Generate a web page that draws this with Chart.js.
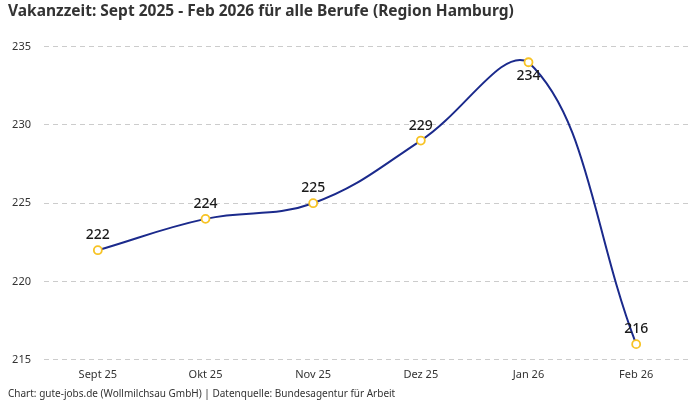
<!DOCTYPE html>
<html>
<head>
<meta charset="utf-8">
<script src="https://cdn.jsdelivr.net/npm/chart.js@4"></script>
<style>
  html, body { margin: 0; padding: 0; background: #fff; }
  #wrap { width: 700px; height: 400px; }
</style>
</head>
<body>
<div id="wrap"><canvas id="vakanzChart"></canvas></div>
<script>
const months = ['Sept 25', 'Okt 25', 'Nov 25', 'Dez 25', 'Jan 26', 'Feb 26'];
const vakanzTage = [222, 224, 225, 229, 234, 216];
const labelBelow = [false, false, false, false, true, false];

const fontFamily = '"Noto Sans", "DejaVu Sans", sans-serif';

// Draw the value labels next to each point
const valueLabels = {
    id: 'valueLabels',
    afterDatasetsDraw(chart) {
        const ctx = chart.ctx;
        const meta = chart.getDatasetMeta(0);
        ctx.save();
        ctx.font = '500 14px ' + fontFamily;
        ctx.fillStyle = '#1a1a1a';
        ctx.textAlign = 'center';
        ctx.textBaseline = 'middle';
        meta.data.forEach((pt, i) => {
            const dy = labelBelow[i] ? 14 : -15;
            ctx.fillText(vakanzTage[i], pt.x, pt.y + dy);
        });
        ctx.restore();
    }
};

const ctx = document.getElementById('vakanzChart').getContext('2d');
new Chart(ctx, {
    type: 'line',
    data: {
        labels: months,
        datasets: [{
            data: vakanzTage,
            borderColor: '#1b2a8c',
            borderWidth: 2,
            tension: 0.4,
            pointRadius: 4,
            pointBorderWidth: 1.8,
            pointBorderColor: '#f7c325',
            pointBackgroundColor: '#ffffff',
            fill: false
        }]
    },
    options: {
        responsive: true,
        maintainAspectRatio: false,
        animation: false,
        layout: { padding: { left: 8, right: 10, top: 2, bottom: 0 } },
        scales: {
            x: {
                offset: true,
                grid: { display: false, drawTicks: false },
                border: { display: false },
                ticks: { color: '#333', font: { family: fontFamily, size: 11 }, padding: 8 }
            },
            y: {
                min: 215,
                max: 235,
                afterFit(scale) { scale.width = 36; },
                ticks: { stepSize: 5, color: '#333', font: { family: fontFamily, size: 11 }, padding: 13 },
                grid: { color: '#cccccc', drawTicks: false },
                border: { display: false, dash: [5, 4] }
            }
        },
        plugins: {
            legend: { display: false },
            tooltip: { enabled: false },
            title: {
                display: true,
                text: 'Vakanzzeit: Sept 2025 - Feb 2026 für alle Berufe (Region Hamburg)',
                align: 'start',
                color: '#333',
                font: { family: fontFamily, size: 15.5, weight: 'bold' },
                padding: { top: 0, bottom: 26 }
            },
            subtitle: {
                display: true,
                position: 'bottom',
                text: 'Chart: gute-jobs.de (Wollmilchsau GmbH) | Datenquelle: Bundesagentur für Arbeit',
                align: 'start',
                color: '#333',
                font: { family: fontFamily, size: 10, lineHeight: 1.0 },
                padding: { top: 0, bottom: 1 }
            }
        }
    },
    plugins: [valueLabels]
});
</script>
</body>
</html>
